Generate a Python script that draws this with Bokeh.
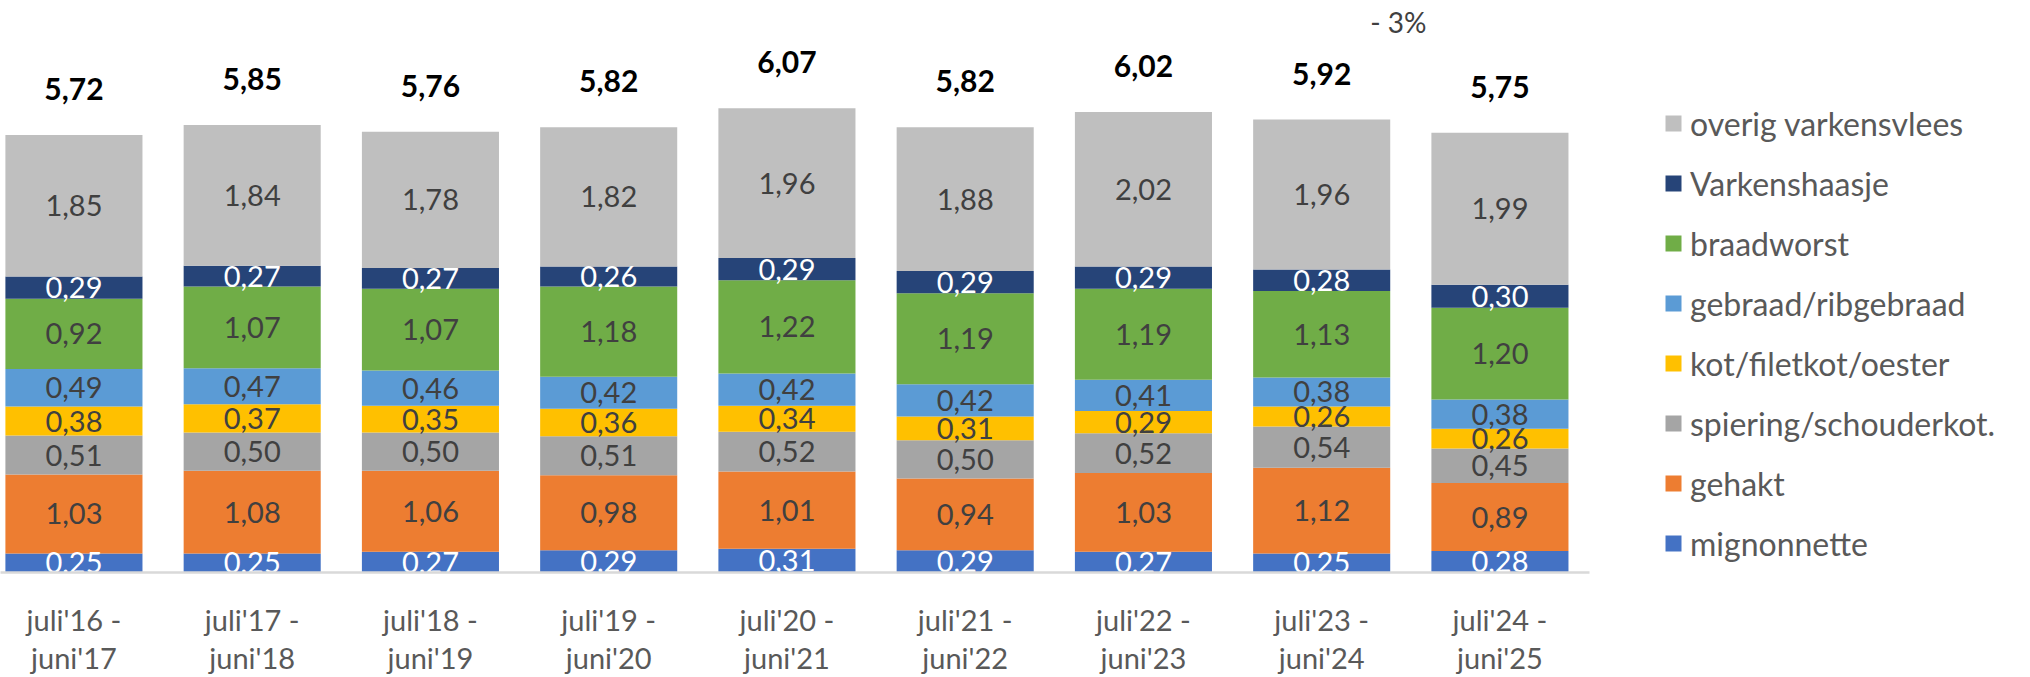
from bokeh.plotting import figure
from bokeh.models import ColumnDataSource, Legend, LegendItem, FixedTicker, Range1d
from bokeh.core.properties import value
from bokeh.embed import file_html
from bokeh.resources import INLINE

# ---------------- data ----------------
periods = ["juli'16 -\njuni'17", "juli'17 -\njuni'18", "juli'18 -\njuni'19",
           "juli'19 -\njuni'20", "juli'20 -\njuni'21", "juli'21 -\njuni'22",
           "juli'22 -\njuni'23", "juli'23 -\njuni'24", "juli'24 -\njuni'25"]

series_names = ["mignonnette", "gehakt", "spiering/schouderkot.", "kot/filetkot/oester",
                "gebraad/ribgebraad", "braadworst", "Varkenshaasje", "overig varkensvlees"]

mignonnette = [0.25, 0.25, 0.27, 0.29, 0.31, 0.29, 0.27, 0.25, 0.28]
gehakt      = [1.03, 1.08, 1.06, 0.98, 1.01, 0.94, 1.03, 1.12, 0.89]
spiering    = [0.51, 0.50, 0.50, 0.51, 0.52, 0.50, 0.52, 0.54, 0.45]
kot         = [0.38, 0.37, 0.35, 0.36, 0.34, 0.31, 0.29, 0.26, 0.26]
gebraad     = [0.49, 0.47, 0.46, 0.42, 0.42, 0.42, 0.41, 0.38, 0.38]
braadworst  = [0.92, 1.07, 1.07, 1.18, 1.22, 1.19, 1.19, 1.13, 1.20]
haasje      = [0.29, 0.27, 0.27, 0.26, 0.29, 0.29, 0.29, 0.28, 0.30]
overig      = [1.85, 1.84, 1.78, 1.82, 1.96, 1.88, 2.02, 1.96, 1.99]

totals = [5.72, 5.85, 5.76, 5.82, 6.07, 5.82, 6.02, 5.92, 5.75]
change_text = "- 3%"

colors = ["#4472C4", "#ED7D31", "#A5A5A5", "#FFC000",
          "#5B9BD5", "#70AD47", "#264478", "#BFBFBF"]
label_colors = ["#FFFFFF", "#404040", "#404040", "#404040",
                "#404040", "#404040", "#FFFFFF", "#404040"]

values = [mignonnette, gehakt, spiering, kot, gebraad, braadworst, haasje, overig]

# ---------------- figure ----------------
FONT = "Lato"
n = len(periods)
xs = list(range(n))
keys = ["s%d" % i for i in range(len(series_names))]

data = {"x": xs}
for k, v in zip(keys, values):
    data[k] = v
src = ColumnDataSource(data)

x_start = -0.412
px_per_x = 178.25
frame_w = 2014
frame_h = 572
y_end = frame_h / 76.5

p = figure(frame_width=frame_w, frame_height=frame_h,
           x_range=Range1d(x_start, x_start + frame_w / px_per_x),
           y_range=Range1d(0, y_end),
           y_axis_location=None, toolbar_location=None, output_backend="svg",
           min_border_left=0, min_border_right=0, min_border_top=0,
           min_border_bottom=105)
p.outline_line_color = None
p.xgrid.visible = False
p.ygrid.visible = False
p.background_fill_color = "white"
p.border_fill_color = "white"

renderers = p.vbar_stack(keys, x="x", width=0.769, color=colors,
                         line_color=None, source=src)

# segment labels
bottom = [0.0] * n
for vals, tc in zip(values, label_colors):
    ys = [b + v / 2 for b, v in zip(bottom, vals)]
    txt = [("%.2f" % v).replace(".", ",") for v in vals]
    p.text(x=xs, y=ys, text=txt, text_align="center", text_baseline="middle",
           text_font=value(FONT), text_font_size="29px", text_color=tc)
    bottom = [b + v for b, v in zip(bottom, vals)]

# totals
p.text(x=xs, y=[t + 0.6 for t in totals],
       text=[("%.2f" % t).replace(".", ",") for t in totals],
       text_align="center", text_baseline="middle", text_font=value(FONT),
       text_font_size="30px", text_font_style="bold", text_color="#000000")

# change annotation between last two bars
p.text(x=[(xs[-2] + xs[-1]) / 2 - 0.07], y=[y_end - 0.28], text=[change_text],
       text_align="center", text_baseline="middle", text_font=value(FONT),
       text_font_size="28px", text_color="#404040")

# axis
ax = p.xaxis[0]
ax.ticker = FixedTicker(ticks=xs)
ax.major_label_overrides = {i: lab for i, lab in zip(xs, periods)}
ax.major_tick_line_color = None
ax.minor_tick_line_color = None
ax.axis_line_color = "#D9D9D9"
ax.axis_line_width = 2.5
ax.bounds = (x_start, xs[-1] + 0.5)
ax.major_label_standoff = 23
ax.major_label_text_font = FONT
ax.major_label_text_font_size = "29px"
ax.major_label_text_color = "#595959"
ax.major_label_text_line_height = 1.1

# legend (top to bottom: last series first)
items = [LegendItem(label=name, renderers=[r])
         for name, r in reversed(list(zip(series_names, renderers)))]
legend = Legend(items=items, location=(1663, 4), orientation="vertical",
                label_text_font=FONT, label_text_font_size="32px",
                label_text_color="#595959", glyph_width=20, glyph_height=20,
                label_height=50, spacing=10, padding=0, margin=0,
                label_standoff=7, border_line_color=None,
                background_fill_alpha=0)
p.add_layout(legend)

open("out.html", "w").write(file_html(p, INLINE))
